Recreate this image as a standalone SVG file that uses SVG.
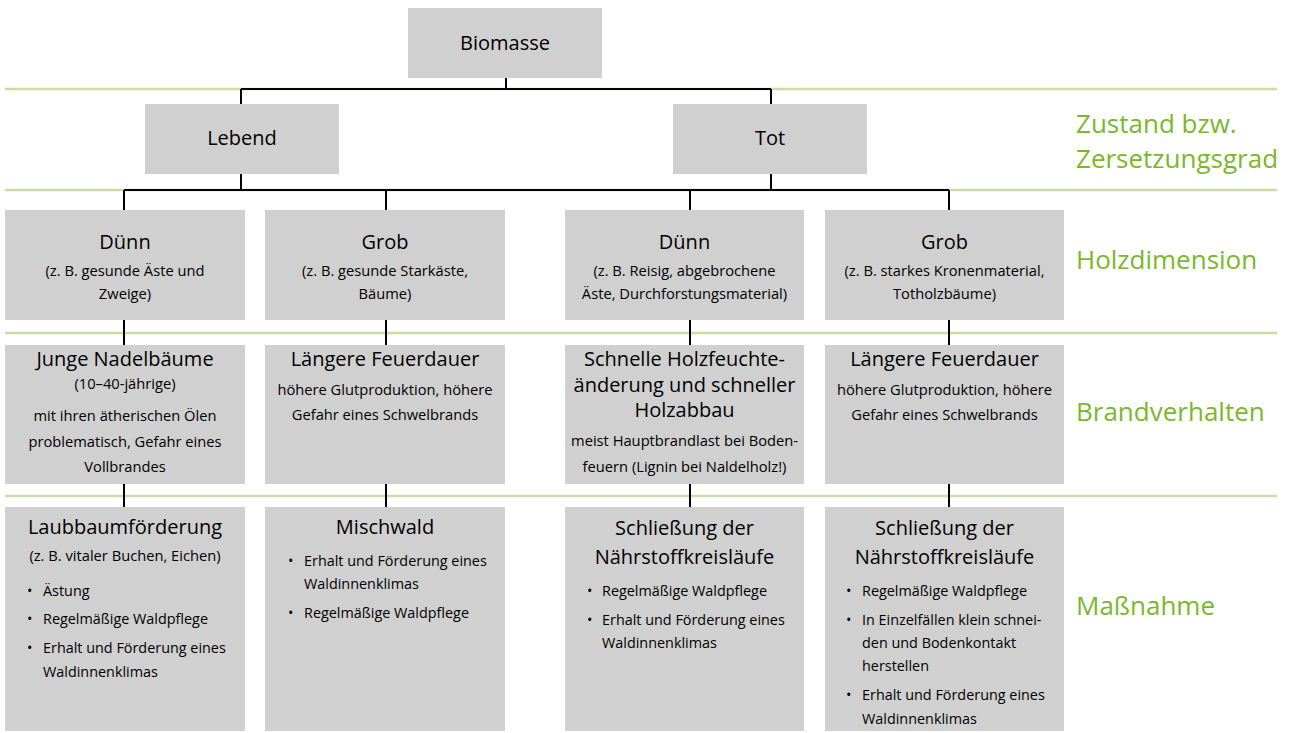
<svg xmlns="http://www.w3.org/2000/svg" width="1289" height="733" viewBox="0 0 1289 733">
<style>
.box{fill:#d0d0d0}
.g{stroke:#c8dea6;stroke-width:2.5;fill:none}
.c{stroke:#000;stroke-width:2;fill:none}
text{font-family:"Open Sans","Noto Sans","Liberation Sans",sans-serif;fill:#000}
.t{font-size:20px;text-anchor:middle}
.s{font-size:14.7px;text-anchor:middle}
.l{font-size:14.4px}
.lab{font-size:26px;fill:#79b82b}
</style>
<rect width="1289" height="733" fill="#fff"/>
<g id="guides">
<line class="g" x1="5" y1="89" x2="1277" y2="89"/>
<line class="g" x1="5" y1="190" x2="1277" y2="190"/>
<line class="g" x1="5" y1="333" x2="1277" y2="333"/>
<line class="g" x1="5" y1="496" x2="1277" y2="496"/>
</g>
<g id="connectors">
<path class="c" d="M506 78V89M241 89H771M241 89V104M771 89V104"/>
<path class="c" d="M241 174V190M771 174V190M124 190H949M124 190V210M386 190V210M690 190V210M949 190V210"/>
<path class="c" d="M124 320V345M386 320V345M690 320V345M949 320V345"/>
<path class="c" d="M124 484V507M386 484V507M690 484V507M949 484V507"/>
</g>
<g id="biomasse"><rect class="box" x="408" y="8" width="194" height="70"/><text class="t" x="505" y="50">Biomasse</text></g>
<g id="lebend"><rect class="box" x="145" y="104" width="194" height="70"/><text class="t" x="242" y="145">Lebend</text></g>
<g id="tot"><rect class="box" x="673" y="104" width="194" height="70"/><text class="t" x="770" y="145">Tot</text></g>

<g id="duenn-lebend"><rect class="box" x="5" y="210" width="240" height="110"/>
<text class="t" x="125" y="249">Dünn</text>
<text class="s" x="125" y="276">(z. B. gesunde Äste und</text>
<text class="s" x="125" y="299">Zweige)</text></g>
<g id="grob-lebend"><rect class="box" x="265" y="210" width="240" height="110"/>
<text class="t" x="385" y="249">Grob</text>
<text class="s" x="385" y="276">(z. B. gesunde Starkäste,</text>
<text class="s" x="385" y="299">Bäume)</text></g>
<g id="duenn-tot"><rect class="box" x="565" y="210" width="239" height="110"/>
<text class="t" x="684.5" y="249">Dünn</text>
<text class="s" x="684.5" y="276">(z. B. Reisig, abgebrochene</text>
<text class="s" x="684.5" y="299">Äste, Durchforstungsmaterial)</text></g>
<g id="grob-tot"><rect class="box" x="825" y="210" width="239" height="110"/>
<text class="t" x="944.5" y="249">Grob</text>
<text class="s" x="944.5" y="276">(z. B. starkes Kronenmaterial,</text>
<text class="s" x="944.5" y="299">Totholzbäume)</text></g>

<g id="brand-1"><rect class="box" x="5" y="345" width="240" height="139"/>
<text class="t" x="125" y="366">Junge Nadelbäume</text>
<text class="s" x="125" y="389">(10–40-jährige)</text>
<text class="s" x="125" y="421">mit ihren ätherischen Ölen</text>
<text class="s" x="125" y="447">problematisch, Gefahr eines</text>
<text class="s" x="125" y="472">Vollbrandes</text></g>
<g id="brand-2"><rect class="box" x="265" y="345" width="240" height="139"/>
<text class="t" x="385" y="366">Längere Feuerdauer</text>
<text class="s" x="385" y="395">höhere Glutproduktion, höhere</text>
<text class="s" x="385" y="420">Gefahr eines Schwelbrands</text></g>
<g id="brand-3"><rect class="box" x="565" y="345" width="239" height="139"/>
<text class="t" x="684.5" y="366">Schnelle Holzfeuchte-</text>
<text class="t" x="684.5" y="392">änderung und schneller</text>
<text class="t" x="684.5" y="417">Holzabbau</text>
<text class="s" x="684.5" y="446">meist Hauptbrandlast bei Boden-</text>
<text class="s" x="684.5" y="472">feuern (Lignin bei Naldelholz!)</text></g>
<g id="brand-4"><rect class="box" x="825" y="345" width="239" height="139"/>
<text class="t" x="944.5" y="366">Längere Feuerdauer</text>
<text class="s" x="944.5" y="395">höhere Glutproduktion, höhere</text>
<text class="s" x="944.5" y="420">Gefahr eines Schwelbrands</text></g>

<g id="massnahme-1"><rect class="box" x="5" y="507" width="240" height="224"/>
<text class="t" x="125" y="534">Laubbaumförderung</text>
<text class="s" x="125" y="561">(z. B. vitaler Buchen, Eichen)</text>
<text class="l" x="27" y="596">•</text><text class="l" x="43" y="596">Ästung</text>
<text class="l" x="27" y="624">•</text><text class="l" x="43" y="624">Regelmäßige Waldpflege</text>
<text class="l" x="27" y="653">•</text><text class="l" x="43" y="653">Erhalt und Förderung eines</text>
<text class="l" x="43" y="677">Waldinnenklimas</text></g>
<g id="massnahme-2"><rect class="box" x="265" y="507" width="240" height="224"/>
<text class="t" x="385" y="534">Mischwald</text>
<text class="l" x="288" y="566">•</text><text class="l" x="304" y="566">Erhalt und Förderung eines</text>
<text class="l" x="304" y="589">Waldinnenklimas</text>
<text class="l" x="288" y="618">•</text><text class="l" x="304" y="618">Regelmäßige Waldpflege</text></g>
<g id="massnahme-3"><rect class="box" x="565" y="507" width="239" height="224"/>
<text class="t" x="684.5" y="535">Schließung der</text>
<text class="t" x="684.5" y="564">Nährstoffkreisläufe</text>
<text class="l" x="587" y="596">•</text><text class="l" x="602" y="596">Regelmäßige Waldpflege</text>
<text class="l" x="587" y="625">•</text><text class="l" x="602" y="625">Erhalt und Förderung eines</text>
<text class="l" x="602" y="648">Waldinnenklimas</text></g>
<g id="massnahme-4"><rect class="box" x="825" y="507" width="239" height="224"/>
<text class="t" x="944.5" y="535">Schließung der</text>
<text class="t" x="944.5" y="564">Nährstoffkreisläufe</text>
<text class="l" x="846" y="596">•</text><text class="l" x="862" y="596">Regelmäßige Waldpflege</text>
<text class="l" x="846" y="625">•</text><text class="l" x="862" y="625">In Einzelfällen klein schnei-</text>
<text class="l" x="862" y="648">den und Bodenkontakt</text>
<text class="l" x="862" y="671">herstellen</text>
<text class="l" x="846" y="700">•</text><text class="l" x="862" y="700">Erhalt und Förderung eines</text>
<text class="l" x="862" y="724">Waldinnenklimas</text></g>

<g id="labels">
<text class="lab" x="1076" y="133">Zustand bzw.</text>
<text class="lab" x="1076" y="168">Zersetzungsgrad</text>
<text class="lab" x="1076" y="269">Holzdimension</text>
<text class="lab" x="1076" y="421">Brandverhalten</text>
<text class="lab" x="1076" y="615">Maßnahme</text>
</g>
</svg>
